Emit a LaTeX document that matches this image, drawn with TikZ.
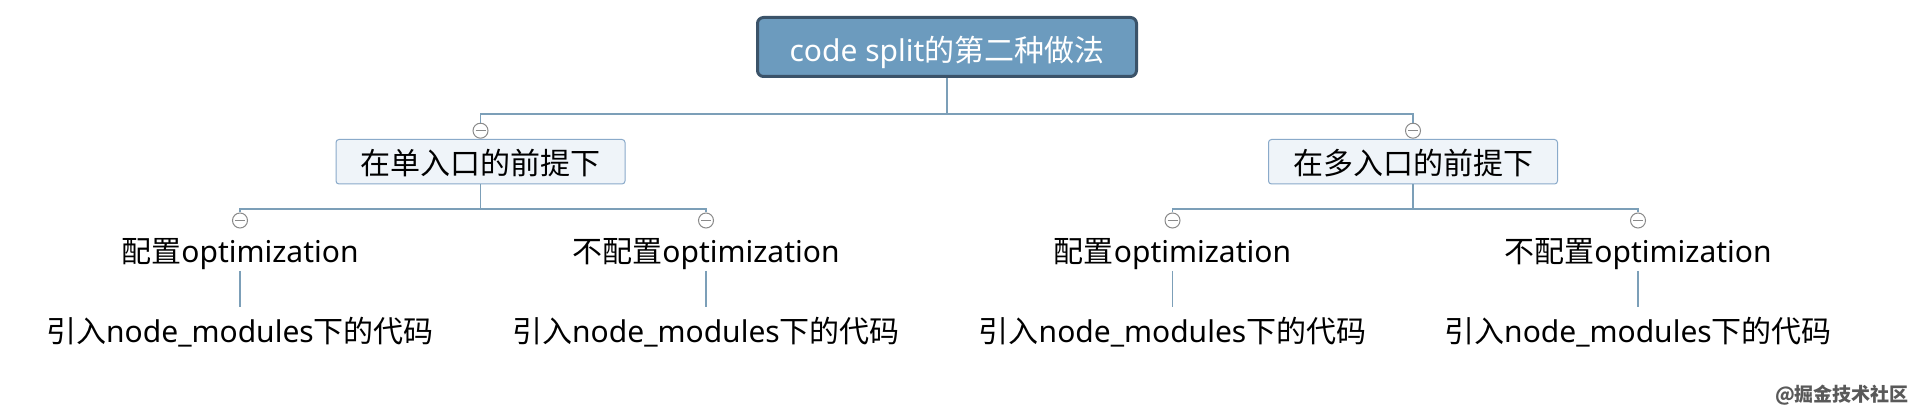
\documentclass[tikz,border=0pt]{standalone}
\usepackage{fontspec}
\setmainfont{Noto Sans}
\newfontfamily\cjk{Noto Sans CJK SC}
\definecolor{rootfill}{HTML}{6C9BBE}
\definecolor{rootline}{HTML}{3B5369}
\definecolor{boxfill}{HTML}{EFF4F9}
\definecolor{boxline}{HTML}{8AAACA}
\definecolor{linkc}{HTML}{7C9FB8}
\definecolor{knobc}{HTML}{8A8A8A}
\begin{document}
\begin{tikzpicture}[x=1pt,y=-1pt,
  link/.style={draw=linkc, line width=1.5pt},
  basefont/.style={font=\fontsize{30}{36}\selectfont},
  rootbox/.style={basefont, draw=rootline, fill=rootfill, line width=3pt,
    rounded corners=6pt, text=white, minimum width=379pt, inner sep=0pt,
    text height=44.5pt, text depth=14.5pt, anchor=base},
  subbox/.style={basefont, draw=boxline, fill=boxfill, line width=1pt,
    rounded corners=3pt, text=black, minimum width=289pt, inner sep=0pt,
    text height=35.5pt, text depth=9pt, anchor=base},
  leaf/.style={basefont, text=black, inner sep=0pt, text height=24pt,
    text depth=8pt, anchor=base},
  leafb/.style={basefont, text=black, inner sep=0pt, text height=36pt,
    text depth=4pt, anchor=base},
  knob/.style={circle, draw=knobc, fill=white, line width=1pt,
    minimum size=15pt, inner sep=0pt,
    path picture={\draw[knobc, line width=1pt]
      ([xshift=2.5pt]path picture bounding box.west) --
      ([xshift=-2.5pt]path picture bounding box.east);}}
]
\useasboundingbox[fill=white] (0,0) rectangle (1920,411);

% root
\node[rootbox] (root) at (947,62) {code split{\cjk 的第二种做法}};
\coordinate (fork0) at (947,114);

% level 1
\node[subbox] (s1) at (480.5,175) {{\cjk 在单入口的前提下}};
\node[subbox] (s2) at (1413,175) {{\cjk 在多入口的前提下}};
\node[knob] (k1) at (480.5,130.7) {};
\node[knob] (k2) at (1413,130.7) {};
\coordinate (fork1) at (480.5,209);
\coordinate (fork2) at (1413,209);

% level 2
\node[leaf] (m1) at (240,262.7) {{\cjk 配置}optimization};
\node[leaf] (m2) at (706,262.7) {{\cjk 不配置}optimization};
\node[leaf] (m3) at (1172.5,262.7) {{\cjk 配置}optimization};
\node[leaf] (m4) at (1638,262.7) {{\cjk 不配置}optimization};
\node[knob] (km1) at (240,220.5) {};
\node[knob] (km2) at (706,220.5) {};
\node[knob] (km3) at (1172.5,220.5) {};
\node[knob] (km4) at (1638,220.5) {};

% level 3
\node[leafb] (b1) at (240,343) {{\cjk 引入}node\_modules{\cjk 下的代码}};
\node[leafb] (b2) at (706,343) {{\cjk 引入}node\_modules{\cjk 下的代码}};
\node[leafb] (b3) at (1172.5,343) {{\cjk 引入}node\_modules{\cjk 下的代码}};
\node[leafb] (b4) at (1638,343) {{\cjk 引入}node\_modules{\cjk 下的代码}};

% connectors
\draw[link] (root.south) -- (fork0) -| (k1.north);
\draw[link] (fork0) -| (k2.north);
\draw[link] (s1.south) -- (fork1) -| (km1.north);
\draw[link] (fork1) -| (km2.north);
\draw[link] (s2.south) -- (fork2) -| (km3.north);
\draw[link] (fork2) -| (km4.north);
\draw[link] (m1.south) -- (b1.north);
\draw[link] (m2.south) -- (b2.north);
\draw[link] (m3.south) -- (b3.north);
\draw[link] (m4.south) -- (b4.north);

% watermark
\node[anchor=east, inner sep=0pt, font=\cjk\bfseries\fontsize{19}{19}\selectfont, text=black!65] (wm) at (1909,395) {@掘金技术社区};
\end{tikzpicture}
\end{document}
